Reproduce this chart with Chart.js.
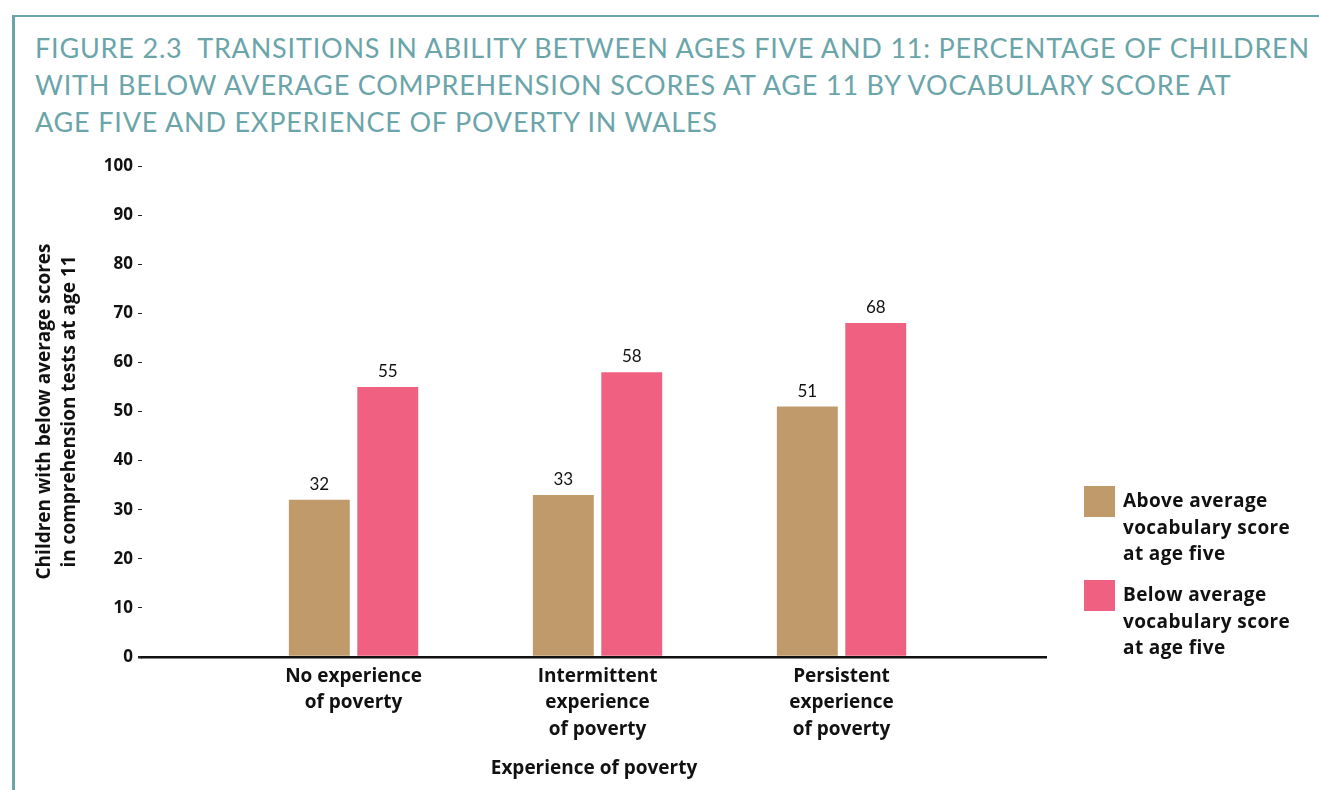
<!DOCTYPE html>
<html>
<head>
<meta charset="utf-8">
<script src="https://cdn.jsdelivr.net/npm/chart.js@4.4.1/dist/chart.umd.min.js"></script>
<style>
  html, body { margin: 0; padding: 0; background: #fff; }
  #page { position: relative; width: 1319px; height: 790px; overflow: hidden; font-family: Lato, sans-serif; }
  #frame { position: absolute; left: 12px; top: 15px; width: 1400px; height: 900px;
           border-left: 3px solid #6ba5aa; border-top: 2.5px solid #6ba5aa; }
  #title { position: absolute; left: 35px; top: 29px; font-size: 27px; line-height: 37px;
           letter-spacing: 0.8px; color: #6ba5aa; white-space: nowrap; }
  #chart { position: absolute; left: 0; top: 0; }
  #legend { position: absolute; left: 1084px; top: 486px; }
  .item { position: relative; height: 94px; }
  .box { position: absolute; left: 0; top: 0; width: 31px; height: 31px; }
  .txt { position: absolute; left: 39px; top: 1px; font-family: "Open Sans", sans-serif; font-weight: bold;
         font-size: 19px; letter-spacing: 0.4px; line-height: 26.5px; color: #111; white-space: nowrap; }
</style>
</head>
<body>
<div id="page">
  <div id="frame"></div>
  <div id="title">FIGURE 2.3&nbsp; TRANSITIONS IN ABILITY BETWEEN AGES FIVE AND 11: PERCENTAGE OF CHILDREN<br>WITH BELOW AVERAGE COMPREHENSION SCORES AT AGE 11 BY VOCABULARY SCORE AT<br>AGE FIVE AND EXPERIENCE OF POVERTY IN WALES</div>
  <canvas id="chart" width="1319" height="790"></canvas>
  <div id="legend"></div>
</div>
<script>
// poverty groups (x axis)
const groups = [
  ["No experience", "of poverty"],
  ["Intermittent", "experience", "of poverty"],
  ["Persistent", "experience", "of poverty"]
];
// % with below average comprehension at age 11
const aboveAvgVocab = [32, 33, 51];
const belowAvgVocab = [55, 58, 68];
const seriesNames = [
  ["Above average", "vocabulary score", "at age five"],
  ["Below average", "vocabulary score", "at age five"]
];
const seriesColors = ["#c09a6a", "#f06080"];
const yTicks = [0, 10, 20, 30, 40, 50, 60, 70, 80, 90, 100];

Chart.defaults.font.family = "Lato, sans-serif";
Chart.defaults.color = "#111";

const boldFont = "'Open Sans', sans-serif";

const valueLabels = {
  id: "valueLabels",
  afterDatasetsDraw(chart) {
    const ctx = chart.ctx;
    ctx.save();
    ctx.font = "17px Lato, sans-serif";
    ctx.fillStyle = "#111";
    ctx.textAlign = "center";
    ctx.textBaseline = "alphabetic";
    chart.data.datasets.forEach((ds, i) => {
      chart.getDatasetMeta(i).data.forEach((bar, j) => {
        ctx.fillText(ds.data[j].y, bar.x, bar.y - 10);
      });
    });
    ctx.restore();
  }
};

const allSeries = [aboveAvgVocab, belowAvgVocab];

new Chart("chart", {
  type: "bar",
  data: {
    datasets: allSeries.map((vals, s) => ({
      label: seriesNames[s].join(" "),
      data: vals.map((v, i) => ({ x: i, y: v })),
      backgroundColor: seriesColors[s],
      categoryPercentage: 0.561,
      barPercentage: 0.89
    }))
  },
  options: {
    responsive: false,
    animation: false,
    layout: { padding: { left: 20, right: 273, top: 166, bottom: 8 } },
    plugins: {
      legend: { display: false },
      tooltip: { enabled: false }
    },
    scales: {
      x: {
        type: "linear",
        offset: false,
        min: -0.867,
        max: 2.838,
        grid: { display: false, drawTicks: false, offset: false },
        border: { display: true, color: "#111", width: 2.5 },
        ticks: {
          stepSize: 1,
          includeBounds: false,
          padding: 6,
          font: { family: boldFont, size: 19, weight: "bold", lineHeight: 1.395 },
          callback: v => groups[v] || ""
        },
        title: {
          display: true,
          text: "Experience of poverty",
          font: { family: boldFont, size: 19, weight: "bold", lineHeight: 1.395 },
          padding: { top: 7, bottom: 0 }
        }
      },
      y: {
        min: 0,
        max: 100,
        afterBuildTicks: s => { s.ticks = yTicks.map(v => ({ value: v })); },
        afterFit: s => { s.width = 122; },
        grid: {
          drawOnChartArea: false,
          drawTicks: true,
          tickLength: 4,
          color: "#222",
          lineWidth: c => (c.tick && c.tick.value === 0 ? 2.5 : 1)
        },
        border: { display: false },
        ticks: {
          padding: 5,
          font: { family: boldFont, size: 17, weight: "bold" }
        },
        title: {
          display: true,
          text: ["Children with below average scores", "in comprehension tests at age 11"],
          font: { family: boldFont, size: 19, weight: "bold", lineHeight: 1.31 },
          padding: { top: 12, bottom: 0 }
        }
      }
    }
  },
  plugins: [valueLabels]
});

// legend built from the series arrays
const legend = document.getElementById("legend");
seriesNames.forEach((name, s) => {
  const item = document.createElement("div");
  item.className = "item";
  item.innerHTML = '<div class="box" style="background:' + seriesColors[s] + '"></div>' +
    '<div class="txt">' + name.join("<br>") + '</div>';
  legend.appendChild(item);
});
</script>
</body>
</html>
